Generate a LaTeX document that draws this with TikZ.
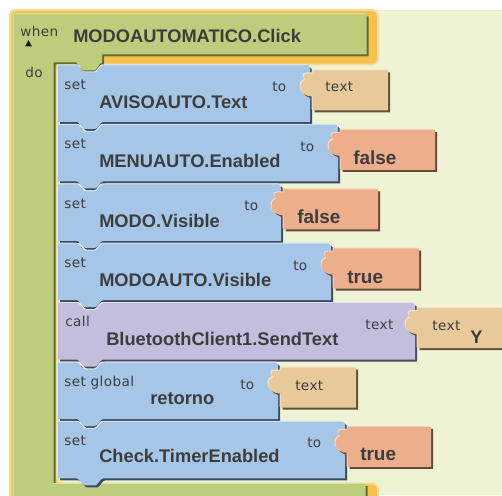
\documentclass[tikz,border=0pt]{standalone}
\usepackage{fontspec}
\setmainfont{Liberation Sans}
\newfontfamily\lblfont{DejaVu Sans}[LetterSpace=3]

\definecolor{wsbg}{HTML}{EDF3D3}
\definecolor{glowA}{HTML}{F7C24C}
\definecolor{glowB}{HTML}{F9D995}
\definecolor{grnL}{HTML}{D6E3A6}
\definecolor{grnM}{HTML}{BCCE7B}
\definecolor{grnD}{HTML}{5E6B34}
\definecolor{bluL}{HTML}{D2E4F5}
\definecolor{bluM}{HTML}{A6C6E7}
\definecolor{bluD}{HTML}{3C4B5E}
\definecolor{purL}{HTML}{E2DEF0}
\definecolor{purM}{HTML}{C3BEDD}
\definecolor{purD}{HTML}{4B4761}
\definecolor{tanL}{HTML}{F7E6C8}
\definecolor{tanM}{HTML}{E8C99A}
\definecolor{tanD}{HTML}{5F4F38}
\definecolor{salL}{HTML}{F9D5C0}
\definecolor{salM}{HTML}{EDAF8B}
\definecolor{salD}{HTML}{64493B}
\definecolor{ink}{HTML}{3D3D3D}

\tikzset{
  lbl/.style={anchor=base west, inner sep=0pt, text=ink, font=\lblfont\fontsize{10.2}{12}\selectfont},
  bname/.style={anchor=base west, inner sep=0pt, text=ink, font=\fontsize{13.7}{16}\selectfont\bfseries},
  bval/.style={anchor=base west, inner sep=0pt, text=ink, font=\fontsize{14.2}{16}\selectfont\bfseries},
}

% statement block: top, shape right, light, main, dark
\newcommand{\stmtblock}[5]{%
  \foreach \col/\off in {#5/3,#3/0,#4/1}{%
    \fill[\col, shift={(\off,\off)}]
      (57,#1) -- (76,#1) .. controls (79,#1) and (81,#1+7) .. (84,#1+7)
      -- (94,#1+7) .. controls (97,#1+7) and (99,#1) .. (102,#1)
      -- (#2-2,#1) -- (#2,#1+2) -- (#2,#1+56.5)
      -- (102,#1+56.5) .. controls (99,#1+56.5) and (97,#1+63.5) .. (94,#1+63.5)
      -- (84,#1+63.5) .. controls (81,#1+63.5) and (79,#1+56.5) .. (76,#1+56.5)
      -- (57,#1+56.5) -- cycle;
  }%
}

% value block with a puzzle tab on its left: left, top, right, light, main, dark
\newcommand{\valblock}[6]{%
  \foreach \col/\off in {#6/3,#4/0,#5/1}{%
    \fill[\col, shift={(\off,\off)}]
      (#1,#2) -- (#3,#2) -- (#3,#2+40) -- (#1,#2+40) -- (#1,#2+26)
      .. controls (#1-7,#2+26) and (#1-12,#2+22) .. (#1-12,#2+16.5)
      .. controls (#1-12,#2+12) and (#1-9,#2+10) .. (#1-7,#2+9)
      .. controls (#1-10,#2+7) and (#1-10,#2+3) .. (#1-5,#2+3)
      -- (#1,#2+3) -- cycle;
  }%
}

\begin{document}
\begin{tikzpicture}[x=0.75pt, y=-0.75pt]
\useasboundingbox (0,0) rectangle (502,495);
\clip (0,0) rectangle (502,495);
\fill[white] (0,0) rectangle (502,495);
\fill[wsbg] (10,10) rectangle (502,495);

% selection glow around the event block
\fill[glowA, draw=glowB, line width=1.5pt, rounded corners=4]
  (10,10) -- (378,10) -- (378,64.5) -- (57,64.5) -- (57,483.5)
  -- (378,483.5) -- (378,510) -- (10,510) -- cycle;

% event block (C shape)
\foreach \col/\off in {grnD/3, grnL/0, grnM/1}{%
  \fill[\col, shift={(\off,\off)}]
    (12.5,13.5) -- (365.5,13.5) -- (365.5,53.5) -- (101,53.5) -- (101,61.5)
    .. controls (98,61.5) and (96,69.5) .. (93,69.5) -- (83,69.5)
    .. controls (80,69.5) and (78,61.5) .. (75,61.5)
    -- (52.5,61.5) -- (52.5,483) -- (364.5,483) -- (364.5,510) -- (12.5,510) -- cycle;
}
\node[lbl] (when) at (20,37) {when};
\fill[black!90] (25,46.5) -- (28.5,40) -- (32,46.5) -- cycle;
\node[bname] (evt) at (73,43) {MODOAUTOMATICO.Click};
\node[lbl] (do) at (25,78) {do};

% 1: set AVISOAUTO.Text to text
\stmtblock{64.5}{309}{bluL}{bluM}{bluD}
\valblock{311.5}{69.5}{387}{tanL}{tanM}{tanD}
\node[lbl] (s1) at (64,89.5) {set};
\node[bname] (n1) at (99,108.5) {AVISOAUTO.Text};
\node[lbl] (t1) at (272,92) {to};
\node[lbl] (v1) at (325,92) {text};

% 2: set MENUAUTO.Enabled to false
\stmtblock{123.9}{337}{bluL}{bluM}{bluD}
\valblock{339.5}{128.9}{434}{salL}{salM}{salD}
\node[lbl] (s2) at (64,148.9) {set};
\node[bname] (n2) at (99,167.9) {MENUAUTO.Enabled};
\node[lbl] (t2) at (300,151.4) {to};
\node[bval] (v2) at (353,164.4) {false};

% 3: set MODO.Visible to false
\stmtblock{183.3}{280}{bluL}{bluM}{bluD}
\valblock{282.5}{188.3}{377}{salL}{salM}{salD}
\node[lbl] (s3) at (64,208.3) {set};
\node[bname] (n3) at (99,227.3) {MODO.Visible};
\node[lbl] (t3) at (244,210.8) {to};
\node[bval] (v3) at (297,223.8) {false};

% 4: set MODOAUTO.Visible to true
\stmtblock{242.7}{330}{bluL}{bluM}{bluD}
\valblock{332.5}{247.7}{418}{salL}{salM}{salD}
\node[lbl] (s4) at (64,267.7) {set};
\node[bname] (n4) at (99,286.7) {MODOAUTO.Visible};
\node[lbl] (t4) at (293,270.2) {to};
\node[bval] (v4) at (347,283.2) {true};

% 5: call BluetoothClient1.SendText text "Y"
\stmtblock{302.1}{414}{purL}{purM}{purD}
\valblock{416.5}{307.1}{530}{tanL}{tanM}{tanD}
\node[lbl] (s5) at (65,326.1) {call};
\node[bname] (n5) at (106,345.1) {BluetoothClient1.SendText};
\node[lbl] (t5) at (365,329.1) {text};
\node[lbl] (v5) at (432,330.1) {text};
\node[bname] (y5) at (470,343) {Y};

% 6: set global retorno to text
\stmtblock{361.5}{277}{bluL}{bluM}{bluD}
\valblock{279.5}{366.5}{355}{tanL}{tanM}{tanD}
\node[lbl] (s6) at (64,386) {set global};
\node[bname] (n6) at (150,404.5) {retorno};
\node[lbl] (t6) at (240,389) {to};
\node[lbl] (v6) at (295,390) {text};

% 7: set Check.TimerEnabled to true
\stmtblock{420.9}{344}{bluL}{bluM}{bluD}
\valblock{346.5}{425.9}{430}{salL}{salM}{salD}
\node[lbl] (s7) at (64,445.9) {set};
\node[bname] (n7) at (99,462.9) {Check.TimerEnabled};
\node[lbl] (t7) at (307,447.9) {to};
\node[bval] (v7) at (360,460.4) {true};
\end{tikzpicture}
\end{document}
